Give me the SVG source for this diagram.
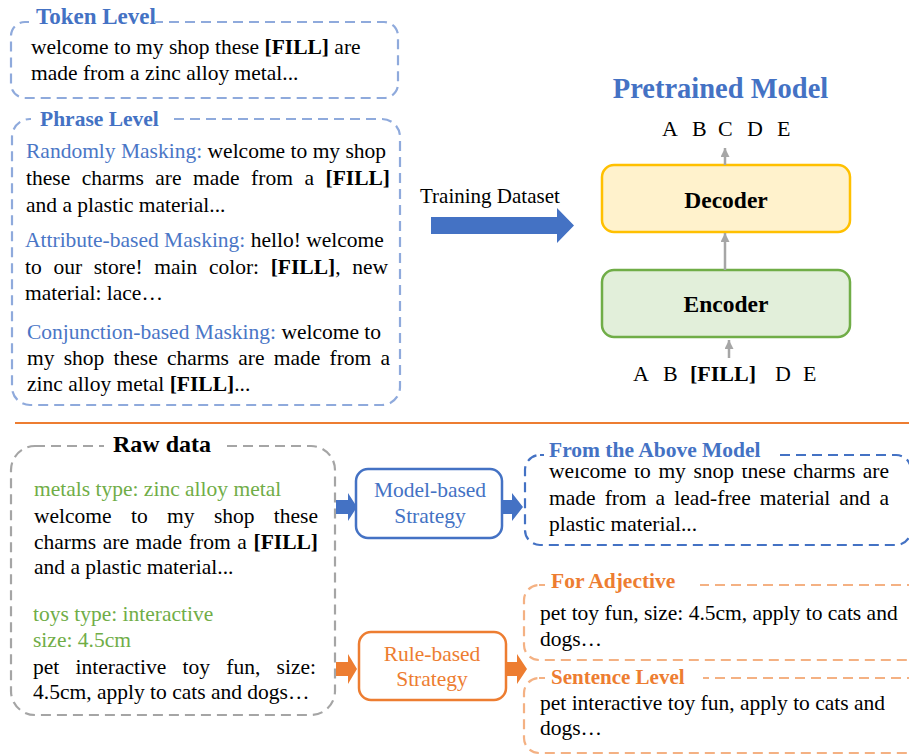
<svg xmlns="http://www.w3.org/2000/svg" width="909" height="756" viewBox="0 0 909 756" font-family="'Liberation Serif', 'Times New Roman', serif">
<defs>
<style>
text{font-family:'Liberation Serif','Times New Roman',serif;font-size:21.5px;fill:#000}
.b{font-weight:bold}
.blue{fill:#4472c4}
.lblue{fill:#4a76c6}
.green{fill:#70ad47}
.orange{fill:#ed7d31}
.title{font-weight:bold;font-size:21.5px}
.dash{fill:none;stroke-width:2.2;stroke-dasharray:10 6}
.bg{fill:#fff;stroke:none}
.garrow{stroke:#a6a6a6;stroke-width:2.5;fill:none}
</style>
<marker id="ah" viewBox="0 0 10 10" refX="10" refY="5" markerWidth="9" markerHeight="9" markerUnits="userSpaceOnUse" orient="auto">
<path d="M0,0 L10,5 L0,10 z" fill="#a6a6a6"/>
</marker>
</defs>
<rect width="909" height="756" fill="#fff"/>

<g id="token-level">
<rect class="dash" x="11" y="22" width="387" height="76" rx="14" stroke="#8faadc"/>
<rect class="bg" x="29" y="6" width="126" height="22"/>
<text class="title blue" x="36" y="24" style="font-size:23px">Token Level</text>
<text x="31" y="54">welcome to my shop these <tspan class="b">[FILL]</tspan> are</text>
<text x="31" y="80">made from a zinc alloy metal...</text>
</g>

<g id="phrase-level">
<rect class="dash" x="12" y="119" width="388" height="286" rx="18" stroke="#8faadc"/>
<rect class="bg" x="31" y="104" width="141" height="22"/>
<text class="title blue" x="40" y="126">Phrase Level</text>
<text x="26" y="158"><tspan class="lblue">Randomly Masking:</tspan> welcome to my shop</text>
<text y="185"><tspan x="26">these</tspan><tspan x="81.7">charms</tspan><tspan x="155.3">are</tspan><tspan x="193.1">made</tspan><tspan x="251.1">from</tspan><tspan x="304.4">a</tspan><tspan x="325.5" class="b">[FILL]</tspan></text>
<text x="26" y="212">and a plastic material...</text>
<text x="25" y="247"><tspan class="lblue">Attribute-based Masking:</tspan> hello! welcome</text>
<text y="274"><tspan x="25">to</tspan><tspan x="53.4">our</tspan><tspan x="93.7">store!</tspan><tspan x="154.2">main</tspan><tspan x="208.9">color:</tspan><tspan x="270.7" class="b">[FILL]</tspan><tspan>,</tspan><tspan x="352.2">new</tspan></text>
<text x="25" y="300">material: lace…</text>
<text x="27" y="339"><tspan class="lblue">Conjunction-based Masking:</tspan> welcome to</text>
<text y="365"><tspan x="27">my</tspan><tspan x="63.7">shop</tspan><tspan x="113.5">these</tspan><tspan x="166.9">charms</tspan><tspan x="238.2">are</tspan><tspan x="273.7">made</tspan><tspan x="329.5">from</tspan><tspan x="380.5">a</tspan></text>
<text x="27" y="391">zinc alloy metal <tspan class="b">[FILL]</tspan>...</text>
</g>

<g id="training-dataset">
<text x="420" y="203" style="font-size:21px">Training Dataset</text>
<polygon points="431,217 557,217 557,208 574,225.5 557,243 557,234 431,234" fill="#4472c4"/>
</g>

<g id="pretrained-model">
<text class="b blue" x="720.5" y="98" text-anchor="middle" style="font-size:28.5px">Pretrained Model</text>
</g>

<g id="output-tokens">
<text y="136" style="font-size:22px"><tspan x="662">A</tspan><tspan x="692">B</tspan><tspan x="718">C</tspan><tspan x="747">D</tspan><tspan x="777">E</tspan></text>
</g>

<g id="decoder">
<rect x="602" y="165" width="248" height="67" rx="12" fill="#fff2cc" stroke="#ffc000" stroke-width="2.5"/>
<text class="b" x="726" y="208" text-anchor="middle" style="font-size:23.5px">Decoder</text>
</g>

<g id="encoder">
<rect x="602" y="270" width="248" height="67" rx="12" fill="#e2efda" stroke="#70ad47" stroke-width="2.5"/>
<text class="b" x="726" y="312" text-anchor="middle" style="font-size:23.5px">Encoder</text>
</g>

<g id="input-tokens">
<text y="381" style="font-size:22px"><tspan x="633">A</tspan><tspan x="663">B</tspan><tspan x="690" class="b">[FILL]</tspan><tspan x="775">D</tspan><tspan x="803">E</tspan></text>
</g>

<g id="separator">
<line x1="15" y1="423" x2="909" y2="423" stroke="#ed7d31" stroke-width="2"/>
</g>

<g id="raw-data">
<rect class="dash" x="11" y="446" width="324" height="269" rx="24" stroke="#a5a5a5"/>
<rect class="bg" x="104" y="428" width="120" height="24"/>
<text class="b" x="113" y="452" style="font-size:24px">Raw data</text>
<text class="green" x="34" y="496">metals type: zinc alloy metal</text>
<text y="523"><tspan x="34">welcome</tspan><tspan x="131">to</tspan><tspan x="167">my</tspan><tspan x="213.9">shop</tspan><tspan x="273.8">these</tspan></text>
<text y="549"><tspan x="34">charms</tspan><tspan x="102.7">are</tspan><tspan x="135.6">made</tspan><tspan x="188.9">from</tspan><tspan x="237.3">a</tspan><tspan x="253.5" class="b">[FILL]</tspan></text>
<text x="34" y="574">and a plastic material...</text>
<text class="green" x="33" y="621">toys type: interactive</text>
<text class="green" x="33" y="647">size: 4.5cm</text>
<text y="674"><tspan x="33">pet</tspan><tspan x="75.5">interactive</tspan><tspan x="182.5">toy</tspan><tspan x="226.3">fun,</tspan><tspan x="276.6">size:</tspan></text>
<text x="33" y="699">4.5cm, apply to cats and dogs…</text>
</g>

<g id="model-based-strategy">
<rect x="356" y="469" width="146" height="69" rx="12" fill="#fff" stroke="#4472c4" stroke-width="2.5"/>
<text class="blue" x="430" y="497" text-anchor="middle">Model-based</text>
<text class="blue" x="430" y="523" text-anchor="middle">Strategy</text>
</g>

<g id="rule-based-strategy">
<rect x="359" y="632" width="147" height="68" rx="12" fill="#fff" stroke="#ed7d31" stroke-width="2.5"/>
<text class="orange" x="432" y="661" text-anchor="middle">Rule-based</text>
<text class="orange" x="432" y="686" text-anchor="middle">Strategy</text>
</g>

<g id="from-above-model">
<rect class="dash" x="525" y="455" width="386" height="90" rx="15" stroke="#4472c4"/>
<text y="478"><tspan x="549">welcome</tspan><tspan x="634.1">to</tspan><tspan x="658.4">my</tspan><tspan x="693.4">shop</tspan><tspan x="741.5">these</tspan><tspan x="793.2">charms</tspan><tspan x="862.8">are</tspan></text>
<text y="505"><tspan x="549">made</tspan><tspan x="604.7">from</tspan><tspan x="655.6">a</tspan><tspan x="674.3">lead-free</tspan><tspan x="759.8">material</tspan><tspan x="839.3">and</tspan><tspan x="879.5">a</tspan></text>
<text x="549" y="531">plastic material...</text>
<rect class="bg" x="544" y="438" width="236" height="30"/>
<text class="title blue" x="549" y="457">From the Above Model</text>
</g>

<g id="for-adjective">
<rect class="dash" x="524" y="585" width="400" height="75" rx="15" stroke="#f4b183"/>
<rect class="bg" x="545" y="570" width="155" height="22"/>
<text class="title orange" x="551" y="588">For Adjective</text>
<text x="540" y="620">pet toy fun, size: 4.5cm, apply to cats and</text>
<text x="540" y="646">dogs…</text>
</g>

<g id="sentence-level">
<rect class="dash" x="524" y="678" width="400" height="75" rx="15" stroke="#f4b183"/>
<rect class="bg" x="545" y="664" width="158" height="22"/>
<text class="title orange" x="551" y="684" style="font-size:21px">Sentence Level</text>
<text x="540" y="710">pet interactive toy fun, apply to cats and</text>
<text x="540" y="735">dogs…</text>
</g>

<g id="connectors">
<line class="garrow" x1="725" y1="165" x2="725" y2="148" marker-end="url(#ah)"/>
<line class="garrow" x1="725" y1="270" x2="725" y2="233" marker-end="url(#ah)"/>
<line class="garrow" x1="729" y1="358" x2="729" y2="340" marker-end="url(#ah)"/>
<polygon points="336,500 348,500 348,493 357,507 348,521 348,514 336,514" fill="#4472c4"/>
<polygon points="502,500 512,500 512,493 523,507 512,521 512,514 502,514" fill="#4472c4"/>
<polygon points="336,662 348,662 348,654 357,669 348,684 348,676 336,676" fill="#ed7d31"/>
<polygon points="506,662 517,662 517,654 527,669 517,684 517,676 506,676" fill="#ed7d31"/>
</g>
</svg>
